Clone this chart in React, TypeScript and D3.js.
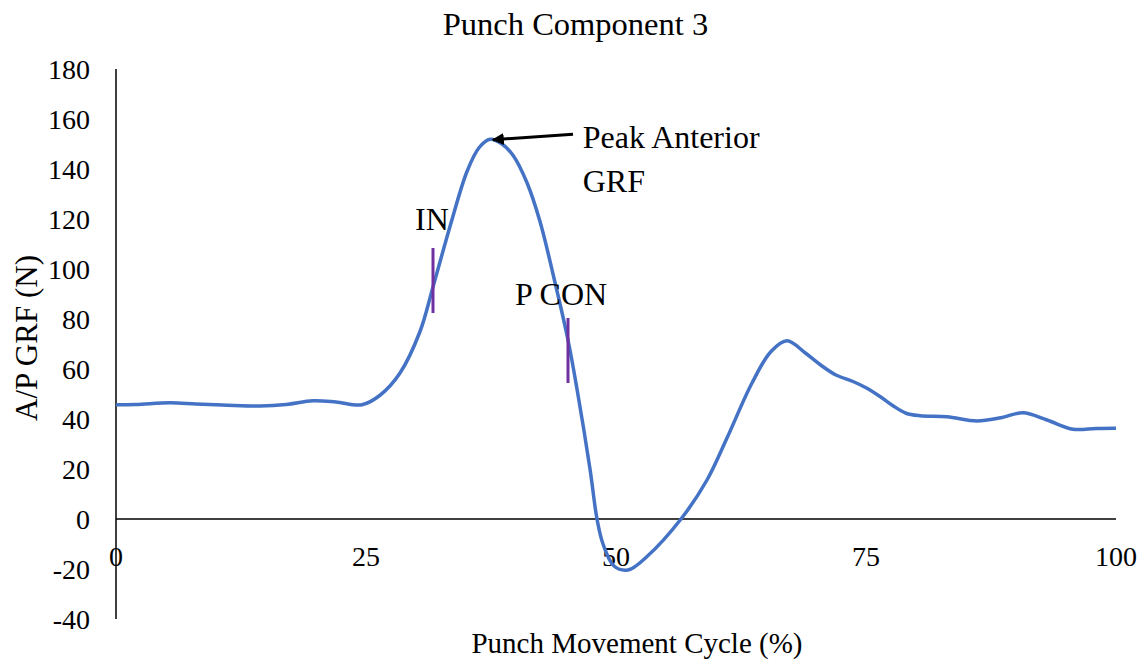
import React from "react";
import * as d3 from "d3";

const cyclePct = [0, 2, 5.4, 8, 11.1, 14.4, 17, 19.7, 22, 24.6, 26.4, 28.4, 30.4, 31.7, 33.4, 35.1, 36.3, 37.4, 38.6, 39.7, 41.1, 42.4, 43.7, 45.2, 46.1, 47.4, 48.1, 48.7, 49.8, 51.2, 53.1, 56.5, 59.1, 61.1, 63.6, 65.5, 67.1, 69, 70.5, 72, 73.7, 75, 76.4, 77.7, 79, 80.4, 83.1, 86.1, 88.5, 90.7, 93.1, 95.7, 98, 100];
const grfValues = [45.7, 45.8, 46.5, 46.0, 45.5, 45.2, 45.8, 47.3, 46.8, 45.7, 49.5, 58.4, 75, 92.8, 117, 139, 148.5, 151.9, 150, 145.5, 134.5, 119, 98, 71.6, 52, 20, 0, -10, -18.8, -20.4, -15, 0, 15.6, 32.4, 54.4, 67, 71.3, 66.2, 61.5, 57.6, 55, 52.5, 49, 45.3, 42.3, 41.3, 40.9, 39.2, 40.5, 42.5, 39.6, 35.9, 36.2, 36.3];

const yTicks = [-40, -20, 0, 20, 40, 60, 80, 100, 120, 140, 160, 180];
const xTicks = [0, 25, 50, 75, 100];

const markerNames = ["IN", "P CON"];
const markerX = [31.7, 45.2];
const markerLow = [82.4, 54.4];
const markerHigh = [108.4, 80.4];

const peakLabelLines = ["Peak Anterior", "GRF"];

const FONT = "'Liberation Serif', 'Times New Roman', serif";

export default function App() {
  const W = 1143, H = 661;
  const x = d3.scaleLinear().domain([0, 100]).range([116, 1116]);
  const y = d3.scaleLinear().domain([-40, 180]).range([619, 69]);
  const pts: [number, number][] = cyclePct.map((c, i) => [c, grfValues[i]]);
  const line = d3
    .line<[number, number]>()
    .x((d) => x(d[0]))
    .y((d) => y(d[1]))
    .curve(d3.curveCatmullRom.alpha(0.5));

  const peakIdx = grfValues.indexOf(d3.max(grfValues) as number);
  const peakX = x(cyclePct[peakIdx]);
  const peakY = y(grfValues[peakIdx]);

  return (
    <svg
      width={W}
      height={H}
      style={{ position: "absolute", left: 0, top: 0, background: "#fff" }}
      fontFamily={FONT}
    >
      <defs>
        <marker id="ah" viewBox="0 0 10 10" refX="9" refY="5" markerWidth="4" markerHeight="4" orient="auto-start-reverse">
          <path d="M0,0 L10,5 L0,10 z" fill="#000" />
        </marker>
      </defs>
      <rect x={0} y={0} width={W} height={H} fill="#fff" />
      <text x={575.5} y={35} textAnchor="middle" fontSize={32.5} fill="#000">
        Punch Component 3
      </text>

      {/* y axis */}
      <line x1={x(0)} x2={x(0)} y1={y(180)} y2={y(-40)} stroke="#000" strokeWidth={1.5} />
      {yTicks.map((t) => (
        <text key={t} x={90} y={y(t)} dy="0.35em" textAnchor="end" fontSize={28} fill="#000">
          {t}
        </text>
      ))}
      {/* zero line */}
      <line x1={x(0)} x2={x(100)} y1={y(0)} y2={y(0)} stroke="#000" strokeWidth={1.5} />
      {xTicks.map((t) => (
        <text key={t} x={x(t)} y={y(0) + 47} textAnchor="middle" fontSize={28} fill="#000">
          {t}
        </text>
      ))}

      <text x={637} y={653} textAnchor="middle" fontSize={29} fill="#000">
        Punch Movement Cycle (%)
      </text>
      <text
        transform={`translate(37,338) rotate(-90)`}
        textAnchor="middle"
        fontSize={31}
        fill="#000"
      >
        A/P GRF (N)
      </text>

      <path d={line(pts) as string} fill="none" stroke="#4472C4" strokeWidth={3.5} />

      {markerNames.map((n, i) => (
        <line
          key={n}
          x1={x(markerX[i])}
          x2={x(markerX[i])}
          y1={y(markerLow[i])}
          y2={y(markerHigh[i])}
          stroke="#7030A0"
          strokeWidth={3}
        />
      ))}
      <text x={415} y={230} fontSize={32} fill="#000">{markerNames[0]}</text>
      <text x={515} y={305} fontSize={32} fill="#000">{markerNames[1]}</text>

      <line
        x1={573}
        y1={134.3}
        x2={peakX + 3}
        y2={peakY + 0.5}
        stroke="#000"
        strokeWidth={3}
        markerEnd="url(#ah)"
      />
      <text x={582.7} y={148.3} fontSize={32} fill="#000">{peakLabelLines[0]}</text>
      <text x={582.7} y={191.7} fontSize={32} fill="#000">{peakLabelLines[1]}</text>
    </svg>
  );
}
